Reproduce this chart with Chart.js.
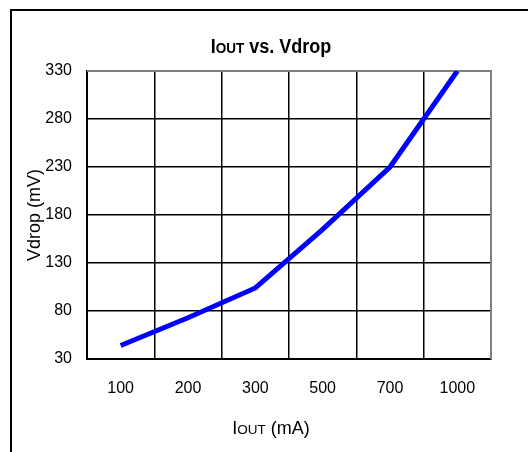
<!DOCTYPE html>
<html>
<head>
<meta charset="utf-8">
<script src="https://cdn.jsdelivr.net/npm/chart.js@4.4.1/dist/chart.umd.min.js"></script>
<style>
  html, body { margin: 0; padding: 0; background: #fff; }
  #wrap { position: relative; width: 528px; height: 452px; overflow: hidden; font-family: "Liberation Sans", Arial, sans-serif; }
  #frame { position: absolute; left: 10px; top: 9px; width: 530px; height: 460px; border-left: 2px solid #000; border-top: 2px solid #000; box-sizing: border-box; }
  #chart { position: absolute; left: 0; top: 0; }
  .lbl { position: absolute; white-space: nowrap; color: #000; }
  #title { left: 271px; top: 46px; font-size: 20px; font-weight: bold; transform: translate(-50%, -50%) scaleX(0.9); }
  #xtitle { left: 271px; top: 428px; font-size: 18px; transform: translate(-50%, -50%); }
  .sc { font-size: 75%; }
</style>
</head>
<body>
<div id="wrap">
  <div id="frame"></div>
  <canvas id="chart" width="528" height="452"></canvas>
  <div class="lbl" id="title">I<span class="sc">OUT</span> vs. Vdrop</div>
  <div class="lbl" id="xtitle">I<span class="sc">OUT</span> (mA)</div>
</div>
<script>
// chart data
const currents = ['100', '200', '300', '500', '700', '1000'];
const vdrop = [44, 73, 104, 165, 230, 330];
const yMin = 30;
const yMax = 330;
const yStep = 50;

const fontFamily = '"Liberation Sans", Arial, sans-serif';

// gray line on top and right side of the plot
const plotFrame = {
    id: 'plotFrame',
    beforeDatasetsDraw(chart) {
        const a = chart.chartArea;
        const ctx = chart.ctx;
        ctx.save();
        ctx.strokeStyle = '#808080';
        ctx.lineWidth = 2;
        ctx.beginPath();
        ctx.moveTo(a.left, a.top);
        ctx.lineTo(a.right, a.top);
        ctx.lineTo(a.right, a.bottom);
        ctx.stroke();
        ctx.restore();
    }
};

document.addEventListener('DOMContentLoaded', function() {
    const ctx = document.getElementById('chart').getContext('2d');

    new Chart(ctx, {
        type: 'line',
        data: {
            labels: currents,
            datasets: [{
                data: vdrop,
                borderColor: '#0000ff',
                borderWidth: 5,
                pointRadius: 0,
                tension: 0,
                fill: false
            }]
        },
        options: {
            responsive: false,
            animation: false,
            layout: {
                padding: { top: 71, right: 37, bottom: 0, left: 24 }
            },
            plugins: {
                legend: { display: false },
                tooltip: { enabled: false }
            },
            scales: {
                x: {
                    type: 'category',
                    offset: true,
                    grid: {
                        offset: true,
                        color: '#000',
                        lineWidth: 1.5,
                        drawTicks: false
                    },
                    border: { color: '#000', width: 2 },
                    ticks: {
                        color: '#000',
                        padding: 20,
                        maxRotation: 0,
                        font: { family: fontFamily, size: 16 }
                    },
                    afterFit: function(scale) { scale.height = 93; }
                },
                y: {
                    min: yMin,
                    max: yMax,
                    grid: {
                        color: '#000',
                        lineWidth: 1.5,
                        drawTicks: false
                    },
                    border: { color: '#000', width: 2 },
                    ticks: {
                        stepSize: yStep,
                        color: '#000',
                        padding: 15,
                        font: { family: fontFamily, size: 16 }
                    },
                    title: {
                        display: true,
                        text: 'Vdrop (mV)',
                        color: '#000',
                        padding: 0,
                        font: { family: fontFamily, size: 18 }
                    },
                    afterFit: function(scale) { scale.width = 63; }
                }
            }
        },
        plugins: [plotFrame]
    });
});
</script>
</body>
</html>
